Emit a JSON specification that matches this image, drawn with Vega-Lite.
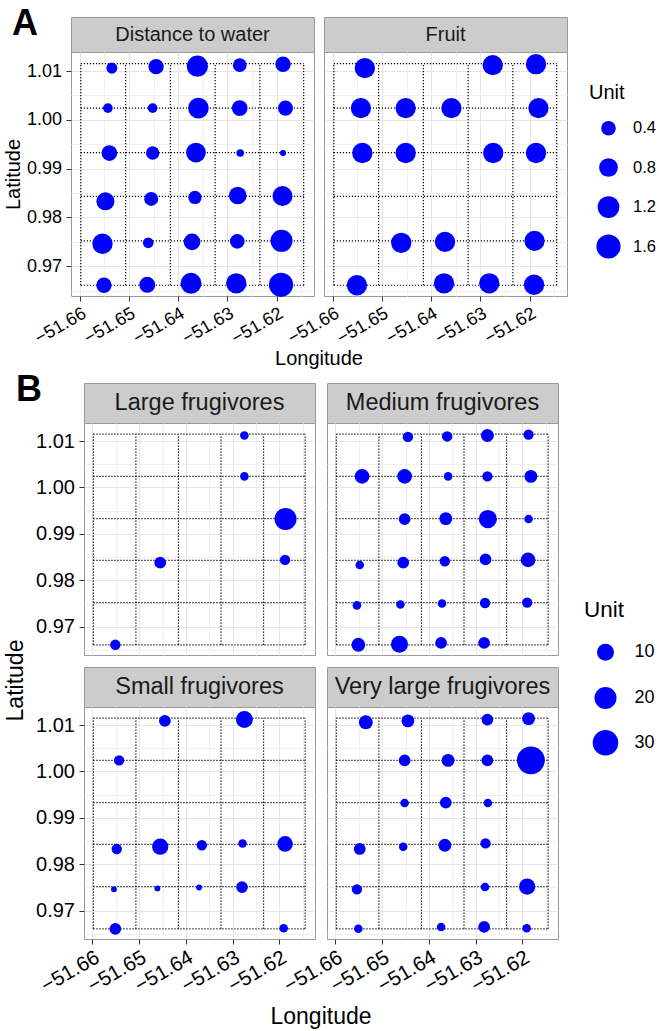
{
"$schema": "https://vega.github.io/schema/vega-lite/v6.json",
"padding": {"left": 2, "top": 5, "right": 0, "bottom": 0},
"background": "white",
"config": {
  "font": "Liberation Sans",
  "view": {"stroke": "#999999", "strokeWidth": 1},
  "axis": {"domain": false, "labelFont": "Liberation Sans", "titleFont": "Liberation Sans", "labelColor": "#000000", "titleColor": "#000000", "titleFontWeight": "normal", "tickColor": "#333333", "tickSize": 5, "tickWidth": 1, "labelPadding": 4.5, "labelOverlap": false, "labelFlush": false, "labelBound": false, "grid": true, "gridWidth": 1},
  "title": {"font": "Liberation Sans", "fontWeight": "bold", "color": "#000000", "offset": 0}
},
"datasets": {
  "grid": [
    {"lon": -51.6598, "lon2": -51.6145, "lat": 0.9661, "lat2": 0.9661},
    {"lon": -51.6598, "lon2": -51.6145, "lat": 0.9752, "lat2": 0.9752},
    {"lon": -51.6598, "lon2": -51.6145, "lat": 0.9843, "lat2": 0.9843},
    {"lon": -51.6598, "lon2": -51.6145, "lat": 0.9933, "lat2": 0.9933},
    {"lon": -51.6598, "lon2": -51.6145, "lat": 1.0024, "lat2": 1.0024},
    {"lon": -51.6598, "lon2": -51.6145, "lat": 1.0115, "lat2": 1.0115},
    {"lon": -51.6598, "lon2": -51.6598, "lat": 0.9661, "lat2": 1.0115},
    {"lon": -51.6507, "lon2": -51.6507, "lat": 0.9661, "lat2": 1.0115},
    {"lon": -51.6416, "lon2": -51.6416, "lat": 0.9661, "lat2": 1.0115},
    {"lon": -51.6325, "lon2": -51.6325, "lat": 0.9661, "lat2": 1.0115},
    {"lon": -51.6234, "lon2": -51.6234, "lat": 0.9661, "lat2": 1.0115},
    {"lon": -51.6145, "lon2": -51.6145, "lat": 0.9661, "lat2": 1.0115}
  ],
  "pts": [
    {"panel": "Distance to water", "lon": -51.6535, "lat": 1.0106, "unit": 0.17},
    {"panel": "Distance to water", "lon": -51.6445, "lat": 1.0109, "unit": 0.45},
    {"panel": "Distance to water", "lon": -51.6361, "lat": 1.0110, "unit": 1.12},
    {"panel": "Distance to water", "lon": -51.6275, "lat": 1.0112, "unit": 0.33},
    {"panel": "Distance to water", "lon": -51.6187, "lat": 1.0114, "unit": 0.47},
    {"panel": "Distance to water", "lon": -51.6543, "lat": 1.0024, "unit": 0.11},
    {"panel": "Distance to water", "lon": -51.6452, "lat": 1.0024, "unit": 0.11},
    {"panel": "Distance to water", "lon": -51.6359, "lat": 1.0024, "unit": 1.05},
    {"panel": "Distance to water", "lon": -51.6275, "lat": 1.0024, "unit": 0.49},
    {"panel": "Distance to water", "lon": -51.6182, "lat": 1.0024, "unit": 0.43},
    {"panel": "Distance to water", "lon": -51.6540, "lat": 0.9932, "unit": 0.49},
    {"panel": "Distance to water", "lon": -51.6452, "lat": 0.9932, "unit": 0.30},
    {"panel": "Distance to water", "lon": -51.6364, "lat": 0.9933, "unit": 0.92},
    {"panel": "Distance to water", "lon": -51.6274, "lat": 0.9932, "unit": 0.04},
    {"panel": "Distance to water", "lon": -51.6187, "lat": 0.9932, "unit": 0.01},
    {"panel": "Distance to water", "lon": -51.6548, "lat": 0.9833, "unit": 0.72},
    {"panel": "Distance to water", "lon": -51.6455, "lat": 0.9838, "unit": 0.35},
    {"panel": "Distance to water", "lon": -51.6366, "lat": 0.9841, "unit": 0.30},
    {"panel": "Distance to water", "lon": -51.6279, "lat": 0.9845, "unit": 0.68},
    {"panel": "Distance to water", "lon": -51.6188, "lat": 0.9844, "unit": 0.96},
    {"panel": "Distance to water", "lon": -51.6554, "lat": 0.9746, "unit": 1.00},
    {"panel": "Distance to water", "lon": -51.6461, "lat": 0.9748, "unit": 0.15},
    {"panel": "Distance to water", "lon": -51.6372, "lat": 0.9750, "unit": 0.58},
    {"panel": "Distance to water", "lon": -51.6280, "lat": 0.9751, "unit": 0.40},
    {"panel": "Distance to water", "lon": -51.6190, "lat": 0.9752, "unit": 1.24},
    {"panel": "Distance to water", "lon": -51.6551, "lat": 0.9661, "unit": 0.45},
    {"panel": "Distance to water", "lon": -51.6463, "lat": 0.9662, "unit": 0.51},
    {"panel": "Distance to water", "lon": -51.6374, "lat": 0.9665, "unit": 1.09},
    {"panel": "Distance to water", "lon": -51.6282, "lat": 0.9665, "unit": 1.00},
    {"panel": "Distance to water", "lon": -51.6191, "lat": 0.9662, "unit": 1.60},
    {"panel": "Fruit", "lon": -51.6535, "lat": 1.0106, "unit": 1},
    {"panel": "Fruit", "lon": -51.6275, "lat": 1.0112, "unit": 1},
    {"panel": "Fruit", "lon": -51.6187, "lat": 1.0114, "unit": 1},
    {"panel": "Fruit", "lon": -51.6543, "lat": 1.0024, "unit": 1},
    {"panel": "Fruit", "lon": -51.6452, "lat": 1.0024, "unit": 1},
    {"panel": "Fruit", "lon": -51.6359, "lat": 1.0024, "unit": 1},
    {"panel": "Fruit", "lon": -51.6182, "lat": 1.0024, "unit": 1},
    {"panel": "Fruit", "lon": -51.6540, "lat": 0.9932, "unit": 1},
    {"panel": "Fruit", "lon": -51.6452, "lat": 0.9932, "unit": 1},
    {"panel": "Fruit", "lon": -51.6274, "lat": 0.9932, "unit": 1},
    {"panel": "Fruit", "lon": -51.6187, "lat": 0.9932, "unit": 1},
    {"panel": "Fruit", "lon": -51.6461, "lat": 0.9748, "unit": 1},
    {"panel": "Fruit", "lon": -51.6372, "lat": 0.9750, "unit": 1},
    {"panel": "Fruit", "lon": -51.6190, "lat": 0.9752, "unit": 1},
    {"panel": "Fruit", "lon": -51.6551, "lat": 0.9661, "unit": 1},
    {"panel": "Fruit", "lon": -51.6374, "lat": 0.9665, "unit": 1},
    {"panel": "Fruit", "lon": -51.6282, "lat": 0.9665, "unit": 1},
    {"panel": "Fruit", "lon": -51.6191, "lat": 0.9662, "unit": 1},
    {"panel": "Large frugivores", "lon": -51.6275, "lat": 1.0112, "unit": 2},
    {"panel": "Large frugivores", "lon": -51.6275, "lat": 1.0024, "unit": 2},
    {"panel": "Large frugivores", "lon": -51.6187, "lat": 0.9932, "unit": 20},
    {"panel": "Large frugivores", "lon": -51.6455, "lat": 0.9838, "unit": 4},
    {"panel": "Large frugivores", "lon": -51.6188, "lat": 0.9844, "unit": 3},
    {"panel": "Large frugivores", "lon": -51.6551, "lat": 0.9661, "unit": 3},
    {"panel": "Medium frugivores", "lon": -51.6445, "lat": 1.0109, "unit": 3},
    {"panel": "Medium frugivores", "lon": -51.6361, "lat": 1.0110, "unit": 3},
    {"panel": "Medium frugivores", "lon": -51.6275, "lat": 1.0112, "unit": 5},
    {"panel": "Medium frugivores", "lon": -51.6187, "lat": 1.0114, "unit": 3},
    {"panel": "Medium frugivores", "lon": -51.6543, "lat": 1.0024, "unit": 7},
    {"panel": "Medium frugivores", "lon": -51.6452, "lat": 1.0024, "unit": 7},
    {"panel": "Medium frugivores", "lon": -51.6359, "lat": 1.0024, "unit": 2},
    {"panel": "Medium frugivores", "lon": -51.6275, "lat": 1.0024, "unit": 3},
    {"panel": "Medium frugivores", "lon": -51.6182, "lat": 1.0024, "unit": 5},
    {"panel": "Medium frugivores", "lon": -51.6452, "lat": 0.9932, "unit": 4},
    {"panel": "Medium frugivores", "lon": -51.6364, "lat": 0.9933, "unit": 5},
    {"panel": "Medium frugivores", "lon": -51.6274, "lat": 0.9932, "unit": 12},
    {"panel": "Medium frugivores", "lon": -51.6187, "lat": 0.9932, "unit": 2},
    {"panel": "Medium frugivores", "lon": -51.6548, "lat": 0.9833, "unit": 2},
    {"panel": "Medium frugivores", "lon": -51.6455, "lat": 0.9838, "unit": 4},
    {"panel": "Medium frugivores", "lon": -51.6366, "lat": 0.9841, "unit": 3},
    {"panel": "Medium frugivores", "lon": -51.6279, "lat": 0.9845, "unit": 4},
    {"panel": "Medium frugivores", "lon": -51.6188, "lat": 0.9844, "unit": 7},
    {"panel": "Medium frugivores", "lon": -51.6554, "lat": 0.9746, "unit": 2},
    {"panel": "Medium frugivores", "lon": -51.6461, "lat": 0.9748, "unit": 2},
    {"panel": "Medium frugivores", "lon": -51.6372, "lat": 0.9750, "unit": 2},
    {"panel": "Medium frugivores", "lon": -51.6280, "lat": 0.9751, "unit": 3},
    {"panel": "Medium frugivores", "lon": -51.6190, "lat": 0.9752, "unit": 3},
    {"panel": "Medium frugivores", "lon": -51.6551, "lat": 0.9661, "unit": 6},
    {"panel": "Medium frugivores", "lon": -51.6463, "lat": 0.9662, "unit": 10},
    {"panel": "Medium frugivores", "lon": -51.6374, "lat": 0.9665, "unit": 4},
    {"panel": "Medium frugivores", "lon": -51.6282, "lat": 0.9665, "unit": 4},
    {"panel": "Small frugivores", "lon": -51.6445, "lat": 1.0109, "unit": 4},
    {"panel": "Small frugivores", "lon": -51.6275, "lat": 1.0112, "unit": 10},
    {"panel": "Small frugivores", "lon": -51.6543, "lat": 1.0024, "unit": 3},
    {"panel": "Small frugivores", "lon": -51.6548, "lat": 0.9833, "unit": 3},
    {"panel": "Small frugivores", "lon": -51.6455, "lat": 0.9838, "unit": 9},
    {"panel": "Small frugivores", "lon": -51.6366, "lat": 0.9841, "unit": 3},
    {"panel": "Small frugivores", "lon": -51.6279, "lat": 0.9845, "unit": 2},
    {"panel": "Small frugivores", "lon": -51.6188, "lat": 0.9844, "unit": 8},
    {"panel": "Small frugivores", "lon": -51.6554, "lat": 0.9746, "unit": 1},
    {"panel": "Small frugivores", "lon": -51.6461, "lat": 0.9748, "unit": 1},
    {"panel": "Small frugivores", "lon": -51.6372, "lat": 0.9750, "unit": 1},
    {"panel": "Small frugivores", "lon": -51.6280, "lat": 0.9751, "unit": 4},
    {"panel": "Small frugivores", "lon": -51.6551, "lat": 0.9661, "unit": 4},
    {"panel": "Small frugivores", "lon": -51.6191, "lat": 0.9662, "unit": 2},
    {"panel": "Very large frugivores", "lon": -51.6535, "lat": 1.0106, "unit": 6},
    {"panel": "Very large frugivores", "lon": -51.6445, "lat": 1.0109, "unit": 5},
    {"panel": "Very large frugivores", "lon": -51.6275, "lat": 1.0112, "unit": 4},
    {"panel": "Very large frugivores", "lon": -51.6187, "lat": 1.0114, "unit": 5},
    {"panel": "Very large frugivores", "lon": -51.6452, "lat": 1.0024, "unit": 4},
    {"panel": "Very large frugivores", "lon": -51.6359, "lat": 1.0024, "unit": 5},
    {"panel": "Very large frugivores", "lon": -51.6275, "lat": 1.0024, "unit": 4},
    {"panel": "Very large frugivores", "lon": -51.6182, "lat": 1.0024, "unit": 38},
    {"panel": "Very large frugivores", "lon": -51.6452, "lat": 0.9932, "unit": 2},
    {"panel": "Very large frugivores", "lon": -51.6364, "lat": 0.9933, "unit": 4},
    {"panel": "Very large frugivores", "lon": -51.6274, "lat": 0.9932, "unit": 2},
    {"panel": "Very large frugivores", "lon": -51.6548, "lat": 0.9833, "unit": 4},
    {"panel": "Very large frugivores", "lon": -51.6455, "lat": 0.9838, "unit": 2},
    {"panel": "Very large frugivores", "lon": -51.6366, "lat": 0.9841, "unit": 5},
    {"panel": "Very large frugivores", "lon": -51.6279, "lat": 0.9845, "unit": 3},
    {"panel": "Very large frugivores", "lon": -51.6554, "lat": 0.9746, "unit": 3},
    {"panel": "Very large frugivores", "lon": -51.6280, "lat": 0.9751, "unit": 2},
    {"panel": "Very large frugivores", "lon": -51.6190, "lat": 0.9752, "unit": 9},
    {"panel": "Very large frugivores", "lon": -51.6551, "lat": 0.9661, "unit": 2},
    {"panel": "Very large frugivores", "lon": -51.6374, "lat": 0.9665, "unit": 2},
    {"panel": "Very large frugivores", "lon": -51.6282, "lat": 0.9665, "unit": 4},
    {"panel": "Very large frugivores", "lon": -51.6191, "lat": 0.9662, "unit": 2}
  ]
},
"vconcat": [
  {
    "title": {"text": "A", "anchor": "start", "frame": "group", "orient": "top", "fontSize": 36, "baseline": "alphabetic", "dx": -59, "dy": 15, "offset": -39},
    "concat": [
      {"width": 243, "height": 35, "data": {"values": [{"panel": "Distance to water"}]}, "mark": {"type": "text", "fontSize": 20, "color": "#1a1a1a", "font": "Liberation Sans"}, "encoding": {"text": {"field": "panel", "type": "nominal"}}, "view": {"fill": "#cccccc", "stroke": "#999999"}},
      {"width": 243, "height": 35, "data": {"values": [{"panel": "Fruit"}]}, "mark": {"type": "text", "fontSize": 20, "color": "#1a1a1a", "font": "Liberation Sans"}, "encoding": {"text": {"field": "panel", "type": "nominal"}}, "view": {"fill": "#cccccc", "stroke": "#999999"}},
      {"width": 243, "height": 244,
       "encoding": {
         "x": {"field": "lon", "type": "quantitative", "scale": {"domain": [-51.6618, -51.6124], "nice": false, "zero": false},
               "axis": {"values": [-51.66,-51.655,-51.65,-51.645,-51.64,-51.635,-51.63,-51.625,-51.62,-51.615], "labelExpr": "abs(datum.value*100-round(datum.value*100))>0.25 ? '' : format(datum.value, '.2f')", "labelAngle": -30, "labelAlign": "right", "labelBaseline": "top", "labelFontSize": 18, "labelPadding": 3, "tickOpacity": {"condition": {"test": "abs(datum.value*100-round(datum.value*100))>0.25", "value": 0}, "value": 1}, "gridColor": {"condition": {"test": "abs(datum.value*100-round(datum.value*100))>0.25", "value": "#f0f0f0"}, "value": "#e5e5e5"}, "title": "Longitude", "titleFontSize": 20, "titleX": 247.5, "titleY": 68, "titleBaseline": "alphabetic", "titleAlign": "center"}},
         "y": {"field": "lat", "type": "quantitative", "scale": {"domain": [0.9639, 1.0139], "nice": false, "zero": false},
               "axis": {"values": [0.965,0.97,0.975,0.98,0.985,0.99,0.995,1.0,1.005,1.01], "labelExpr": "abs(datum.value*100-round(datum.value*100))>0.25 ? '' : format(datum.value, '.2f')", "labelFontSize": 18, "tickOpacity": {"condition": {"test": "abs(datum.value*100-round(datum.value*100))>0.25", "value": 0}, "value": 1}, "gridColor": {"condition": {"test": "abs(datum.value*100-round(datum.value*100))>0.25", "value": "#f0f0f0"}, "value": "#e5e5e5"}, "title": "Latitude", "titleFontSize": 20, "titleX": -52, "titleY": 122, "titleBaseline": "alphabetic", "titleAlign": "center"}}
       },
       "layer": [
         {"data": {"name": "grid"}, "mark": {"type": "rule", "color": "#000000", "strokeWidth": 1.2, "strokeDash": [1.2, 1.8]}, "encoding": {"x2": {"field": "lon2"}, "y2": {"field": "lat2"}}},
         {"data": {"name": "pts"}, "transform": [{"filter": "datum.panel === 'Distance to water'"}], "mark": {"type": "circle", "color": "#0000ff", "opacity": 1},
          "encoding": {"size": {"field": "unit", "type": "quantitative", "scale": {"type": "pow", "exponent": 0.784, "domain": [0, 1.6], "range": [26.5, 586]},
            "legend": {"title": "Unit", "orient": "none", "legendX": 506, "legendY": 54, "values": [0.4, 0.8, 1.2, 1.6], "titleFontSize": 20, "titleFontWeight": "normal", "titleColor": "#000000", "titleFont": "Liberation Sans", "titlePadding": 17, "labelFontSize": 16.5, "labelColor": "#000000", "labelFont": "Liberation Sans", "labelOffset": 12, "symbolOffset": 7, "rowPadding": 13, "gridAlign": "all", "symbolType": "circle", "symbolFillColor": "#0000ff", "symbolStrokeWidth": 0, "symbolOpacity": 1, "padding": 12}}}}
       ]},
      {"width": 243, "height": 244,
       "encoding": {
         "x": {"field": "lon", "type": "quantitative", "scale": {"domain": [-51.6618, -51.6124], "nice": false, "zero": false},
               "axis": {"values": [-51.66,-51.655,-51.65,-51.645,-51.64,-51.635,-51.63,-51.625,-51.62,-51.615], "labelExpr": "abs(datum.value*100-round(datum.value*100))>0.25 ? '' : format(datum.value, '.2f')", "labelAngle": -30, "labelAlign": "right", "labelBaseline": "top", "labelFontSize": 18, "labelPadding": 3, "tickOpacity": {"condition": {"test": "abs(datum.value*100-round(datum.value*100))>0.25", "value": 0}, "value": 1}, "gridColor": {"condition": {"test": "abs(datum.value*100-round(datum.value*100))>0.25", "value": "#f0f0f0"}, "value": "#e5e5e5"}, "title": null}},
         "y": {"field": "lat", "type": "quantitative", "scale": {"domain": [0.9639, 1.0139], "nice": false, "zero": false},
               "axis": {"values": [0.965,0.97,0.975,0.98,0.985,0.99,0.995,1.0,1.005,1.01], "labels": false, "ticks": false, "gridColor": {"condition": {"test": "abs(datum.value*100-round(datum.value*100))>0.25", "value": "#f0f0f0"}, "value": "#e5e5e5"}, "title": null}}
       },
       "layer": [
         {"data": {"name": "grid"}, "mark": {"type": "rule", "color": "#000000", "strokeWidth": 1.2, "strokeDash": [1.2, 1.8]}, "encoding": {"x2": {"field": "lon2"}, "y2": {"field": "lat2"}}},
         {"data": {"name": "pts"}, "transform": [{"filter": "datum.panel === 'Fruit'"}], "mark": {"type": "circle", "color": "#0000ff", "opacity": 1},
          "encoding": {"size": {"field": "unit", "type": "quantitative", "scale": {"type": "pow", "exponent": 0.784, "domain": [0, 1.6], "range": [26.5, 586]},
            "legend": {"title": "Unit", "orient": "none", "legendX": 506, "legendY": 54, "values": [0.4, 0.8, 1.2, 1.6], "titleFontSize": 20, "titleFontWeight": "normal", "titleColor": "#000000", "titleFont": "Liberation Sans", "titlePadding": 17, "labelFontSize": 16.5, "labelColor": "#000000", "labelFont": "Liberation Sans", "labelOffset": 12, "symbolOffset": 7, "rowPadding": 13, "gridAlign": "all", "symbolType": "circle", "symbolFillColor": "#0000ff", "symbolStrokeWidth": 0, "symbolOpacity": 1, "padding": 12}}}}
       ]}
    ],
    "columns": 2,
    "spacing": {"row": 0, "column": 10},
    "bounds": "flush"
  },
  {
    "title": {"text": "B", "anchor": "start", "frame": "group", "orient": "top", "fontSize": 36, "baseline": "alphabetic", "dx": -68, "dy": 19, "offset": -35},
    "vconcat": [
      {
        "concat": [
          {"width": 231, "height": 40, "data": {"values": [{"panel": "Large frugivores"}]}, "mark": {"type": "text", "fontSize": 23.5, "color": "#1a1a1a", "font": "Liberation Sans"}, "encoding": {"text": {"field": "panel", "type": "nominal"}}, "view": {"fill": "#cccccc", "stroke": "#999999"}},
          {"width": 231, "height": 40, "data": {"values": [{"panel": "Medium frugivores"}]}, "mark": {"type": "text", "fontSize": 23.5, "color": "#1a1a1a", "font": "Liberation Sans"}, "encoding": {"text": {"field": "panel", "type": "nominal"}}, "view": {"fill": "#cccccc", "stroke": "#999999"}},
          {"width": 231, "height": 232,
           "encoding": {
             "x": {"field": "lon", "type": "quantitative", "scale": {"domain": [-51.6618, -51.6124], "nice": false, "zero": false},
                   "axis": {"values": [-51.66,-51.655,-51.65,-51.645,-51.64,-51.635,-51.63,-51.625,-51.62,-51.615], "labels": false, "ticks": false, "gridColor": {"condition": {"test": "abs(datum.value*100-round(datum.value*100))>0.25", "value": "#f0f0f0"}, "value": "#e5e5e5"}, "title": null}},
             "y": {"field": "lat", "type": "quantitative", "scale": {"domain": [0.9639, 1.0139], "nice": false, "zero": false},
                   "axis": {"values": [0.965,0.97,0.975,0.98,0.985,0.99,0.995,1.0,1.005,1.01], "labelExpr": "abs(datum.value*100-round(datum.value*100))>0.25 ? '' : format(datum.value, '.2f')", "labelFontSize": 20, "tickOpacity": {"condition": {"test": "abs(datum.value*100-round(datum.value*100))>0.25", "value": 0}, "value": 1}, "gridColor": {"condition": {"test": "abs(datum.value*100-round(datum.value*100))>0.25", "value": "#f0f0f0"}, "value": "#e5e5e5"}, "title": null}}
           },
           "layer": [
             {"data": {"name": "grid"}, "mark": {"type": "rule", "color": "#000000", "strokeWidth": 1.2, "strokeDash": [1.2, 1.8]}, "encoding": {"x2": {"field": "lon2"}, "y2": {"field": "lat2"}}},
             {"data": {"name": "pts"}, "transform": [{"filter": "datum.panel === 'Large frugivores'"}], "mark": {"type": "circle", "color": "#0000ff", "opacity": 1},
              "encoding": {"size": {"field": "unit", "type": "quantitative", "scale": {"type": "pow", "exponent": 0.7, "domain": [1, 38], "range": [34, 779]},
                "legend": {"title": "Unit", "orient": "none", "legendX": 500, "legendY": 216, "values": [10, 20, 30], "titleFontSize": 22.5, "titleFontWeight": "normal", "titleColor": "#000000", "titleFont": "Liberation Sans", "titlePadding": 21.7, "labelFontSize": 18, "labelColor": "#000000", "labelFont": "Liberation Sans", "labelOffset": 16, "symbolOffset": 8.5, "rowPadding": 17.3, "gridAlign": "all", "symbolType": "circle", "symbolFillColor": "#0000ff", "symbolStrokeWidth": 0, "symbolOpacity": 1, "padding": 0}}}}
           ]},
          {"width": 231, "height": 232,
           "encoding": {
             "x": {"field": "lon", "type": "quantitative", "scale": {"domain": [-51.6618, -51.6124], "nice": false, "zero": false},
                   "axis": {"values": [-51.66,-51.655,-51.65,-51.645,-51.64,-51.635,-51.63,-51.625,-51.62,-51.615], "labels": false, "ticks": false, "gridColor": {"condition": {"test": "abs(datum.value*100-round(datum.value*100))>0.25", "value": "#f0f0f0"}, "value": "#e5e5e5"}, "title": null}},
             "y": {"field": "lat", "type": "quantitative", "scale": {"domain": [0.9639, 1.0139], "nice": false, "zero": false},
                   "axis": {"values": [0.965,0.97,0.975,0.98,0.985,0.99,0.995,1.0,1.005,1.01], "labels": false, "ticks": false, "gridColor": {"condition": {"test": "abs(datum.value*100-round(datum.value*100))>0.25", "value": "#f0f0f0"}, "value": "#e5e5e5"}, "title": null}}
           },
           "layer": [
             {"data": {"name": "grid"}, "mark": {"type": "rule", "color": "#000000", "strokeWidth": 1.2, "strokeDash": [1.2, 1.8]}, "encoding": {"x2": {"field": "lon2"}, "y2": {"field": "lat2"}}},
             {"data": {"name": "pts"}, "transform": [{"filter": "datum.panel === 'Medium frugivores'"}], "mark": {"type": "circle", "color": "#0000ff", "opacity": 1},
              "encoding": {"size": {"field": "unit", "type": "quantitative", "scale": {"type": "pow", "exponent": 0.7, "domain": [1, 38], "range": [34, 779]},
                "legend": {"title": "Unit", "orient": "none", "legendX": 500, "legendY": 216, "values": [10, 20, 30], "titleFontSize": 22.5, "titleFontWeight": "normal", "titleColor": "#000000", "titleFont": "Liberation Sans", "titlePadding": 21.7, "labelFontSize": 18, "labelColor": "#000000", "labelFont": "Liberation Sans", "labelOffset": 16, "symbolOffset": 8.5, "rowPadding": 17.3, "gridAlign": "all", "symbolType": "circle", "symbolFillColor": "#0000ff", "symbolStrokeWidth": 0, "symbolOpacity": 1, "padding": 0}}}}
           ]}
        ],
        "columns": 2,
        "spacing": {"row": 0, "column": 12},
        "bounds": "flush"
      },
      {
        "concat": [
          {"width": 231, "height": 40, "data": {"values": [{"panel": "Small frugivores"}]}, "mark": {"type": "text", "fontSize": 23.5, "color": "#1a1a1a", "font": "Liberation Sans"}, "encoding": {"text": {"field": "panel", "type": "nominal"}}, "view": {"fill": "#cccccc", "stroke": "#999999"}},
          {"width": 231, "height": 40, "data": {"values": [{"panel": "Very large frugivores"}]}, "mark": {"type": "text", "fontSize": 23.5, "color": "#1a1a1a", "font": "Liberation Sans"}, "encoding": {"text": {"field": "panel", "type": "nominal"}}, "view": {"fill": "#cccccc", "stroke": "#999999"}},
          {"width": 231, "height": 232,
           "encoding": {
             "x": {"field": "lon", "type": "quantitative", "scale": {"domain": [-51.6618, -51.6124], "nice": false, "zero": false},
                   "axis": {"values": [-51.66,-51.655,-51.65,-51.645,-51.64,-51.635,-51.63,-51.625,-51.62,-51.615], "labelExpr": "abs(datum.value*100-round(datum.value*100))>0.25 ? '' : format(datum.value, '.2f')", "labelAngle": -30, "labelAlign": "right", "labelBaseline": "top", "labelFontSize": 20.5, "labelPadding": 3, "tickOpacity": {"condition": {"test": "abs(datum.value*100-round(datum.value*100))>0.25", "value": 0}, "value": 1}, "gridColor": {"condition": {"test": "abs(datum.value*100-round(datum.value*100))>0.25", "value": "#f0f0f0"}, "value": "#e5e5e5"}, "title": "Longitude", "titleFontSize": 23, "titleX": 236.5, "titleY": 84, "titleBaseline": "alphabetic", "titleAlign": "center"}},
             "y": {"field": "lat", "type": "quantitative", "scale": {"domain": [0.9639, 1.0139], "nice": false, "zero": false},
                   "axis": {"values": [0.965,0.97,0.975,0.98,0.985,0.99,0.995,1.0,1.005,1.01], "labelExpr": "abs(datum.value*100-round(datum.value*100))>0.25 ? '' : format(datum.value, '.2f')", "labelFontSize": 20, "tickOpacity": {"condition": {"test": "abs(datum.value*100-round(datum.value*100))>0.25", "value": 0}, "value": 1}, "gridColor": {"condition": {"test": "abs(datum.value*100-round(datum.value*100))>0.25", "value": "#f0f0f0"}, "value": "#e5e5e5"}, "title": "Latitude", "titleFontSize": 23, "titleX": -62, "titleY": -27, "titleBaseline": "alphabetic", "titleAlign": "center"}}
           },
           "layer": [
             {"data": {"name": "grid"}, "mark": {"type": "rule", "color": "#000000", "strokeWidth": 1.2, "strokeDash": [1.2, 1.8]}, "encoding": {"x2": {"field": "lon2"}, "y2": {"field": "lat2"}}},
             {"data": {"name": "pts"}, "transform": [{"filter": "datum.panel === 'Small frugivores'"}], "mark": {"type": "circle", "color": "#0000ff", "opacity": 1},
              "encoding": {"size": {"field": "unit", "type": "quantitative", "scale": {"type": "pow", "exponent": 0.7, "domain": [1, 38], "range": [34, 779]},
                "legend": {"title": "Unit", "orient": "none", "legendX": 500, "legendY": 216, "values": [10, 20, 30], "titleFontSize": 22.5, "titleFontWeight": "normal", "titleColor": "#000000", "titleFont": "Liberation Sans", "titlePadding": 21.7, "labelFontSize": 18, "labelColor": "#000000", "labelFont": "Liberation Sans", "labelOffset": 16, "symbolOffset": 8.5, "rowPadding": 17.3, "gridAlign": "all", "symbolType": "circle", "symbolFillColor": "#0000ff", "symbolStrokeWidth": 0, "symbolOpacity": 1, "padding": 0}}}}
           ]},
          {"width": 231, "height": 232,
           "encoding": {
             "x": {"field": "lon", "type": "quantitative", "scale": {"domain": [-51.6618, -51.6124], "nice": false, "zero": false},
                   "axis": {"values": [-51.66,-51.655,-51.65,-51.645,-51.64,-51.635,-51.63,-51.625,-51.62,-51.615], "labelExpr": "abs(datum.value*100-round(datum.value*100))>0.25 ? '' : format(datum.value, '.2f')", "labelAngle": -30, "labelAlign": "right", "labelBaseline": "top", "labelFontSize": 20.5, "labelPadding": 3, "tickOpacity": {"condition": {"test": "abs(datum.value*100-round(datum.value*100))>0.25", "value": 0}, "value": 1}, "gridColor": {"condition": {"test": "abs(datum.value*100-round(datum.value*100))>0.25", "value": "#f0f0f0"}, "value": "#e5e5e5"}, "title": null}},
             "y": {"field": "lat", "type": "quantitative", "scale": {"domain": [0.9639, 1.0139], "nice": false, "zero": false},
                   "axis": {"values": [0.965,0.97,0.975,0.98,0.985,0.99,0.995,1.0,1.005,1.01], "labels": false, "ticks": false, "gridColor": {"condition": {"test": "abs(datum.value*100-round(datum.value*100))>0.25", "value": "#f0f0f0"}, "value": "#e5e5e5"}, "title": null}}
           },
           "layer": [
             {"data": {"name": "grid"}, "mark": {"type": "rule", "color": "#000000", "strokeWidth": 1.2, "strokeDash": [1.2, 1.8]}, "encoding": {"x2": {"field": "lon2"}, "y2": {"field": "lat2"}}},
             {"data": {"name": "pts"}, "transform": [{"filter": "datum.panel === 'Very large frugivores'"}], "mark": {"type": "circle", "color": "#0000ff", "opacity": 1},
              "encoding": {"size": {"field": "unit", "type": "quantitative", "scale": {"type": "pow", "exponent": 0.7, "domain": [1, 38], "range": [34, 779]},
                "legend": {"title": "Unit", "orient": "none", "legendX": 500, "legendY": 216, "values": [10, 20, 30], "titleFontSize": 22.5, "titleFontWeight": "normal", "titleColor": "#000000", "titleFont": "Liberation Sans", "titlePadding": 21.7, "labelFontSize": 18, "labelColor": "#000000", "labelFont": "Liberation Sans", "labelOffset": 16, "symbolOffset": 8.5, "rowPadding": 17.3, "gridAlign": "all", "symbolType": "circle", "symbolFillColor": "#0000ff", "symbolStrokeWidth": 0, "symbolOpacity": 1, "padding": 0}}}}
           ]}
        ],
        "columns": 2,
        "spacing": {"row": 0, "column": 12},
        "bounds": "flush"
      }
    ],
    "spacing": -23,
    "bounds": "full"
  }
],
"spacing": 2,
"bounds": "full",
"center": true,
"resolve": {"scale": {"size": "independent"}, "legend": {"size": "independent"}}
}
